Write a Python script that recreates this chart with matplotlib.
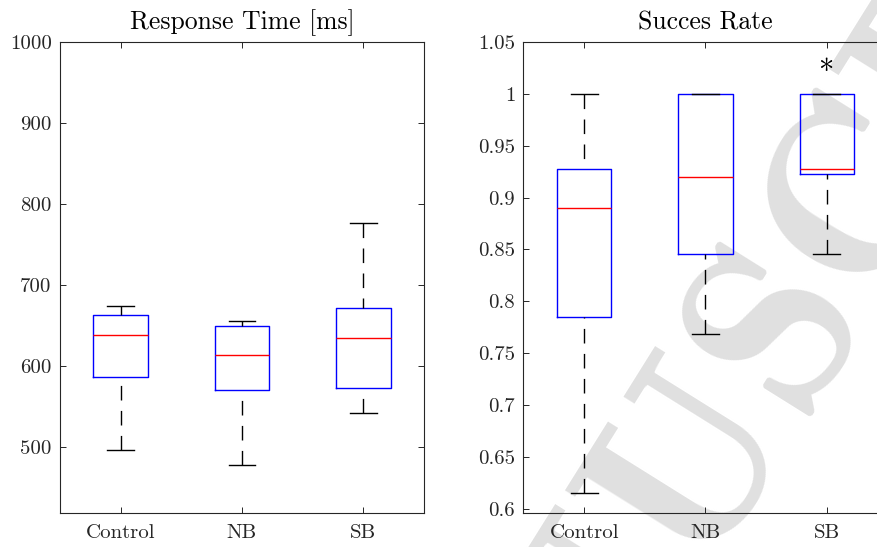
import matplotlib
matplotlib.use("Agg")
import matplotlib.pyplot as plt

plt.rcParams['font.family'] = ['cmr10', 'DejaVu Serif']
plt.rcParams['axes.formatter.use_mathtext'] = True
plt.rcParams['lines.scale_dashes'] = False

groups = ['Control', 'NB', 'SB']

# response time [ms]: lower whisker, q1, median, q3, upper whisker
rt_lo = [496, 478, 542]
rt_q1 = [586, 570, 573]
rt_med = [638, 614, 635]
rt_q3 = [663, 649, 671]
rt_hi = [674, 656, 776]
rt_ticks = [500, 600, 700, 800, 900, 1000]
rt_labels = ['500', '600', '700', '800', '900', '1000']

# success rate
sr_lo = [0.615, 0.769, 0.846]
sr_q1 = [0.785, 0.846, 0.923]
sr_med = [0.890, 0.920, 0.928]
sr_q3 = [0.928, 1.0, 1.0]
sr_hi = [1.0, 1.0, 1.0]
sr_ticks = [0.6, 0.65, 0.7, 0.75, 0.8, 0.85, 0.9, 0.95, 1.0, 1.05]
sr_labels = ['0.6', '0.65', '0.7', '0.75', '0.8', '0.85', '0.9', '0.95', '1', '1.05']
sig_x = 3
sig_y = 1.020

axcol = '#262626'


def make_stats(lo, q1, med, q3, hi):
    return [dict(whislo=a, q1=b, med=c, q3=d, whishi=e, label=g)
            for a, b, c, d, e, g in zip(lo, q1, med, q3, hi, groups)]


def draw(ax, stats, ylim, ticks, labels, title):
    art = ax.bxp(stats, widths=0.45, capwidths=0.22, showfliers=False,
                 boxprops=dict(color='blue', lw=1.0),
                 medianprops=dict(color='red', lw=1.0),
                 whiskerprops=dict(color='black', lw=1.0, linestyle=(0, (10.5, 7.5))),
                 capprops=dict(color='black', lw=1.0))
    # MATLAB starts the dash pattern at the cap
    for w in art['whiskers']:
        w.set_ydata(w.get_ydata()[::-1])
    ax.set_xlim(0.5, 3.5)
    ax.set_ylim(*ylim)
    ax.set_yticks(ticks)
    ax.set_yticklabels(labels)
    ax.tick_params(direction='in', length=4.5, width=0.7, colors=axcol,
                   labelsize=15, top=True, right=True, pad=6)
    ax.tick_params(axis='x', pad=8)
    for s in ax.spines.values():
        s.set_color(axcol)
        s.set_linewidth(0.8)
    ax.set_facecolor('none')
    ax.set_title(title, fontsize=18.5, color='black', pad=9)


fig = plt.figure(figsize=(8.78, 5.47), dpi=100)
ax1 = fig.add_axes([60 / 878, 34 / 547, 364 / 878, 471 / 547])
ax2 = fig.add_axes([523.5 / 878, 34 / 547, 364 / 878, 471 / 547])

draw(ax1, make_stats(rt_lo, rt_q1, rt_med, rt_q3, rt_hi), (418.5, 1000),
     rt_ticks, rt_labels, 'Response Time [ms]')
draw(ax2, make_stats(sr_lo, sr_q1, sr_med, sr_q3, sr_hi), (0.596, 1.05),
     sr_ticks, sr_labels, 'Succes Rate')

ax2.text(sig_x, sig_y, '*', fontsize=22, ha='center', va='center')

# watermark of the source page
fig.text(378 / 878, (547 - 1090) / 547, 'MANUSCRIPT', fontsize=175, color='#e0e0e0',
         family='cmb10', rotation=58, rotation_mode='anchor',
         ha='left', va='baseline', zorder=-5)

fig.savefig('out.png', dpi=100)
